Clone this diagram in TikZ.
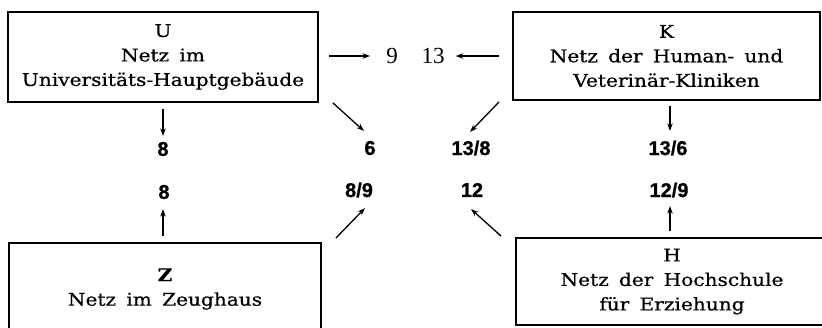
\documentclass[tikz,border=0pt]{standalone}
\usepackage{fontspec}
\setmainfont{DejaVu Serif}[FakeStretch=1.15,WordSpace=1.6,FakeBold=0.6]
\newfontfamily\numfont{Liberation Sans}[FakeBold=0.8]
\newfontfamily\serifnum{Liberation Serif}
\usetikzlibrary{arrows.meta,calc}
\begin{document}
\begin{tikzpicture}[x=1pt,y=-1pt,
  box/.style={draw,line width=1.8pt,inner sep=0pt,align=center,
    font=\fontsize{17.5}{24.5}\selectfont},
  lbl/.style={inner sep=0pt,font=\numfont\bfseries\fontsize{20}{20}\selectfont},
  slbl/.style={inner sep=0pt,font=\serifnum\fontsize{23}{23}\selectfont},
  arr/.style={line width=1.3pt,-{Stealth[length=7.5pt,width=5.5pt]}}]
\useasboundingbox (0,0) rectangle (822,327);
\clip (0,0) rectangle (822,327);
\fill[white] (0,0) rectangle (822,327);
% boxes
\node[box,minimum width=310pt,minimum height=90pt] (U) at (163,57)
  {U\\Netz im\\Universitäts-Hauptgebäude};
\node[box,minimum width=307pt,minimum height=88pt] (K) at (666.5,56)
  {K\\Netz der Human- und\\Veterinär-Kliniken};
\node[box,minimum width=312pt,minimum height=92pt] (Z) at (165,289)
  {\textbf{Z}\\Netz im Zeughaus};
\node[box,minimum width=312pt,minimum height=87pt] (H) at (672,281.5)
  {H\\Netz der Hochschule\\für Erziehung};
% labels
\node[slbl] (n9) at (392,56) {9};
\node[slbl] (n13) at (433,56) {13};
\node[lbl] (a8) at (163,149) {8};
\node[lbl] (a6) at (370,148) {6};
\node[lbl] (a138) at (471,148) {13/8};
\node[lbl] (a136) at (668,148) {13/6};
\node[lbl] (b8) at (164,192) {8};
\node[lbl] (b89) at (359,190) {8/9};
\node[lbl] (b12) at (472,190) {12};
\node[lbl] (b129) at (669,190) {12/9};
% arrows
\draw[arr] ($(U.east)+(10,-1)$) -- ($(n9.west)+(-16,0)$);
\draw[arr] ($(K.west)+(-13,0)$) -- ($(n13.east)+(11,0)$);
\draw[arr] ($(U.south)+(0,6)$) -- ($(U.south)+(0,33)$);
\draw[arr] ($(U.south east)+(14,0)$) -- ($(U.south east)+(45,28)$);
\draw[arr] ($(K.south west)+(-13,1)$) -- ($(K.south west)+(-42,31)$);
\draw[arr] ($(K.south)+(3.5,5)$) -- ($(K.south)+(3.5,30)$);
\draw[arr] ($(Z.north)+(-2,-6)$) -- ($(Z.north)+(-2,-33)$);
\draw[arr] ($(Z.north east)+(14,-4)$) -- ($(Z.north east)+(43,-34)$);
\draw[arr] ($(H.north west)+(-14,-1)$) -- ($(H.north west)+(-44,-28)$);
\draw[arr] ($(H.north)+(-2,-6)$) -- ($(H.north)+(-2,-31)$);
\end{tikzpicture}
\end{document}
